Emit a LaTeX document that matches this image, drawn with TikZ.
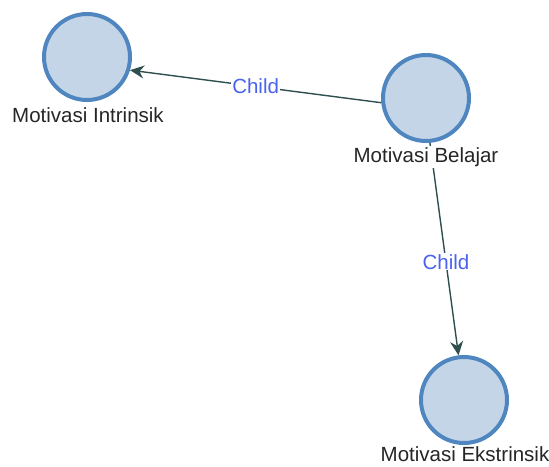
\documentclass[tikz,border=0pt]{standalone}
\usepackage{fontspec}
\setmainfont{Liberation Sans}
\usetikzlibrary{arrows.meta}
\definecolor{nodefill}{HTML}{C5D5E8}
\definecolor{noderim}{HTML}{4F86C0}
\definecolor{edgecol}{HTML}{2F4F4F}
\definecolor{labelcol}{HTML}{4A62F0}
\tikzset{
  concept/.style={circle, draw=noderim, fill=nodefill, line width=4pt, minimum size=86pt, inner sep=0pt},
  caption/.style={font=\fontsize{20.5}{23}\selectfont, text=black!85, fill=white, inner sep=1pt},
  link/.style={draw=edgecol, line width=1.4pt, -{Stealth[length=14pt,width=13pt,inset=4.5pt]}},
  linklabel/.style={font=\fontsize{20.5}{23}\selectfont, text=labelcol, fill=white, inner sep=1pt}
}
\begin{document}
\begin{tikzpicture}[x=1pt,y=-1pt]
\useasboundingbox (0,0) rectangle (549,466);
\node[concept] (intr) at (87,57) {};
\node[concept] (bel) at (426,98) {};
\node[concept] (eks) at (464,400) {};
% connectors
\draw[link] (bel.186.5) -- node[linklabel, pos=0.5] {Child} (intr.-17.7);
\draw[link] (bel.-85) -- node[linklabel, pos=0.56] {Child} (eks.97.6);
% captions under the circles
\node[caption] (intrcap) at (88,115) {Motivasi Intrinsik};
\node[caption] (belcap) at (426,157) {Motivasi Belajar};
\node[caption] (ekscap) at (465,454) {Motivasi Ekstrinsik};
\end{tikzpicture}
\end{document}
